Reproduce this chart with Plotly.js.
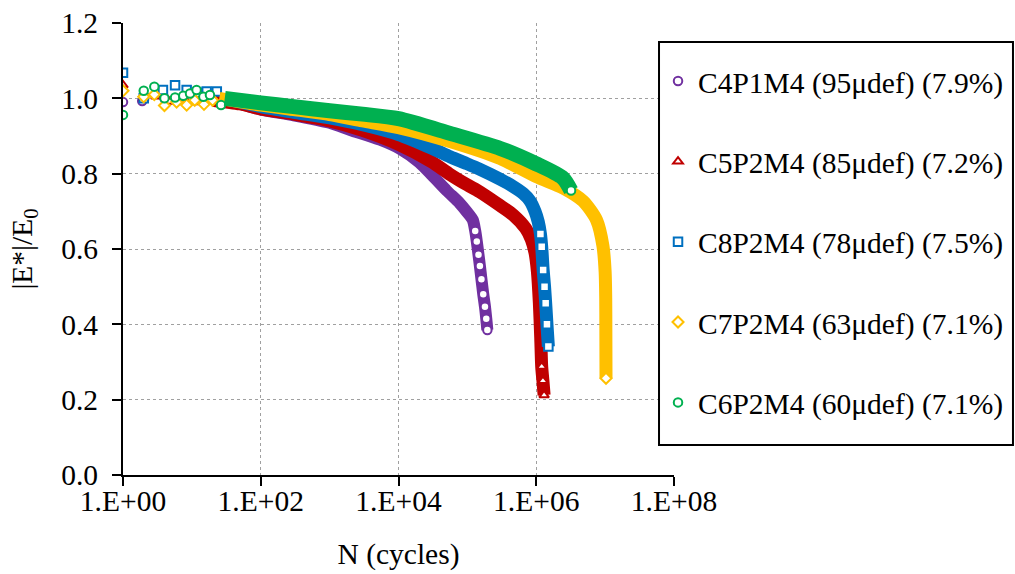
<!DOCTYPE html>
<html>
<head>
<meta charset="utf-8">
<script src="https://cdn.plot.ly/plotly-3.0.1.min.js"></script>
<style>html,body{margin:0;padding:0;background:#fff;}</style>
</head>
<body>
<div id="chart" style="width:1015px;height:574px;"></div>
<script>
// ---- Data ----
const seriesNames = ['C4P1M4 (95μdef) (7.9%)', 'C5P2M4 (85μdef) (7.2%)', 'C8P2M4 (78μdef) (7.5%)', 'C7P2M4 (63μdef) (7.1%)', 'C6P2M4 (60μdef) (7.1%)'];

// C4P1M4
const c4EarlyN = [1, 1.9, 4, 6, 10, 15];
const c4EarlyE = [0.99, 0.993, 1.0, 0.995, 1.0, 0.995];
const c4BandN = [20, 50, 100, 300, 1000, 2000, 5400, 10500, 20000, 31000, 50000, 77000, 100000, 120000];
const c4BandE = [1.0, 0.985, 0.97, 0.955, 0.935, 0.916, 0.89, 0.866, 0.83, 0.795, 0.755, 0.722, 0.697, 0.677];
const c4TailN = [130000, 137000, 145000, 152000, 160000, 170000, 180000, 188000, 195000];
const c4TailE = [0.648, 0.62, 0.585, 0.555, 0.52, 0.48, 0.447, 0.415, 0.385];

// C5P2M4
const c5EarlyN = [1, 2, 3, 4.8, 8, 12];
const c5EarlyE = [1.035, 1.0, 1.005, 0.991, 0.995, 0.99];
const c5BandN = [20, 50, 100, 300, 1000, 3000, 10000, 30000, 56000, 100000, 150000, 300000, 465000, 700000, 850000, 960000, 1040000, 1110000, 1160000];
const c5BandE = [0.995, 0.985, 0.972, 0.958, 0.94, 0.915, 0.878, 0.832, 0.798, 0.77, 0.752, 0.715, 0.69, 0.655, 0.625, 0.59, 0.54, 0.456, 0.367];
const c5TailN = [1200000, 1250000, 1300000];
const c5TailE = [0.288, 0.25, 0.212];

// C8P2M4
const c8EarlyN = [1, 2, 3.8, 5.7, 8.4, 12, 16.4, 23];
const c8EarlyE = [1.068, 1.0, 1.022, 1.035, 1.022, 1.015, 1.018, 1.018];
const c8BandN = [30, 100, 300, 1000, 3000, 10000, 30000, 56000, 100000, 150000, 300000, 460000, 650000, 810000, 960000, 1070000];
const c8BandE = [1.0, 0.978, 0.963, 0.948, 0.93, 0.904, 0.868, 0.845, 0.826, 0.812, 0.785, 0.766, 0.747, 0.728, 0.7, 0.672];
const c8TailN = [1150000, 1200000, 1260000, 1320000, 1370000, 1430000, 1500000];
const c8TailE = [0.64, 0.606, 0.544, 0.5, 0.456, 0.4, 0.341];

// C7P2M4
const c7EarlyN = [1, 2, 2.85, 4, 6, 8.4, 11, 15, 20];
const c7EarlyE = [1.02, 1.004, 1.01, 0.981, 0.99, 0.982, 0.995, 0.984, 0.995];
const c7BandN = [25, 100, 300, 1000, 3000, 10000, 56000, 300000, 1000000, 2450000, 4800000, 7500000, 9300000, 10000000, 10200000, 10250000];
const c7BandE = [1.0, 0.982, 0.97, 0.957, 0.94, 0.922, 0.885, 0.84, 0.792, 0.762, 0.727, 0.677, 0.608, 0.54, 0.47, 0.385];
const c7TailN = [10300000];
const c7TailE = [0.257];

// C6P2M4
const c6EarlyN = [1, 2, 2.85, 4, 5.7, 7.5, 9.4, 11.7, 14.7, 18.3, 26.5];
const c6EarlyE = [0.956, 1.02, 1.031, 1.0, 1.002, 1.007, 1.013, 1.022, 1.004, 1.009, 0.982];
const c6BandN = [30, 100, 300, 1000, 3000, 10000, 56000, 300000, 1000000, 2450000];
const c6BandE = [1.0, 0.988, 0.978, 0.967, 0.958, 0.946, 0.907, 0.867, 0.826, 0.788];
const c6TailN = [3200000];
const c6TailE = [0.755];

// Axis ticks
const xTickVals = [1, 100, 10000, 1000000, 100000000];
const xTickText = ['1.E+00', '1.E+02', '1.E+04', '1.E+06', '1.E+08'];
const yTickVals = [0, 0.2, 0.4, 0.6, 0.8, 1.0, 1.2];
const yTickText = ['0.0', '0.2', '0.4', '0.6', '0.8', '1.0', '1.2'];

// ---- Styles ----
const FONT = 'Liberation Serif, Times New Roman, serif';
const FS = 29.5;
const styles = [
  {color: '#7030A0', symbol: 'circle', width: 12},
  {color: '#C00000', symbol: 'triangle-up', width: 13},
  {color: '#0070C0', symbol: 'square', width: 13},
  {color: '#FFC000', symbol: 'diamond', width: 13},
  {color: '#00B050', symbol: 'circle', width: 15}
];
const data = [
  [c4EarlyN, c4EarlyE, c4BandN, c4BandE, c4TailN, c4TailE],
  [c5EarlyN, c5EarlyE, c5BandN, c5BandE, c5TailN, c5TailE],
  [c8EarlyN, c8EarlyE, c8BandN, c8BandE, c8TailN, c8TailE],
  [c7EarlyN, c7EarlyE, c7BandN, c7BandE, c7TailN, c7TailE],
  [c6EarlyN, c6EarlyE, c6BandN, c6BandE, c6TailN, c6TailE]
];

const traces = [];
data.forEach((d, i) => {
  const s = styles[i];
  const marker = {symbol: s.symbol, size: 8.5, color: '#ffffff', line: {color: s.color, width: 2}};
  traces.push({
    type: 'scatter', mode: 'markers', name: seriesNames[i], legendgroup: 'g' + i,
    x: d[0], y: d[1], marker: marker, showlegend: true
  });
  traces.push({
    type: 'scatter', mode: 'lines', name: seriesNames[i], legendgroup: 'g' + i, showlegend: false,
    x: d[2].concat(d[4]), y: d[3].concat(d[5]),
    line: {color: s.color, width: s.width, shape: 'spline', smoothing: 0.7}
  });
  traces.push({
    type: 'scatter', mode: 'markers', name: seriesNames[i], legendgroup: 'g' + i, showlegend: false,
    x: d[4], y: d[5], marker: marker
  });
});

const layout = {
  width: 1015, height: 574,
  margin: {l: 123, r: 341, t: 23, b: 99, autoexpand: false},
  paper_bgcolor: '#ffffff', plot_bgcolor: '#ffffff',
  font: {family: FONT, size: FS, color: '#000000'},
  showlegend: true,
  xaxis: {
    type: 'log', range: [0, 8],
    tickmode: 'array', tickvals: xTickVals, ticktext: xTickText,
    ticks: 'outside', ticklen: 9, tickwidth: 2, tickcolor: '#000000',
    showline: true, linecolor: '#000000', linewidth: 2,
    showgrid: true, gridcolor: '#a0a0a0', griddash: 'dot', gridwidth: 1,
    zeroline: false,
    tickfont: {family: FONT, size: FS, color: '#000000'},
    ticklabelstandoff: -10,
    title: {text: 'N (cycles)', font: {family: FONT, size: FS, color: '#000000'}, standoff: 27}
  },
  yaxis: {
    range: [0, 1.2],
    tickmode: 'array', tickvals: yTickVals, ticktext: yTickText,
    ticks: 'outside', ticklen: 9, tickwidth: 2, tickcolor: '#000000',
    showline: true, linecolor: '#000000', linewidth: 2,
    showgrid: true, gridcolor: '#a0a0a0', griddash: 'dot', gridwidth: 1,
    zeroline: false,
    tickfont: {family: FONT, size: FS, color: '#000000'},
    ticklabelstandoff: 8,
    title: {text: '|E*|/E<sub>0</sub>', font: {family: FONT, size: FS, color: '#000000'}, standoff: 20}
  },
  legend: {
    x: 0.971, xanchor: 'left', y: 0.9285, yanchor: 'top',
    bgcolor: 'rgba(0,0,0,0)', borderwidth: 0,
    font: {family: FONT, size: FS, color: '#000000'},
    tracegroupgap: 39, traceorder: 'grouped'
  },
  shapes: [{
    type: 'rect', xref: 'paper', yref: 'paper', layer: 'above',
    x0: 0.9728, x1: 1.6152, y0: 0.0664, y1: 0.958,
    line: {color: '#000000', width: 2}, fillcolor: '#ffffff'
  }]
};

Plotly.newPlot('chart', traces, layout, {staticPlot: true, displayModeBar: false});
</script>
</body>
</html>
